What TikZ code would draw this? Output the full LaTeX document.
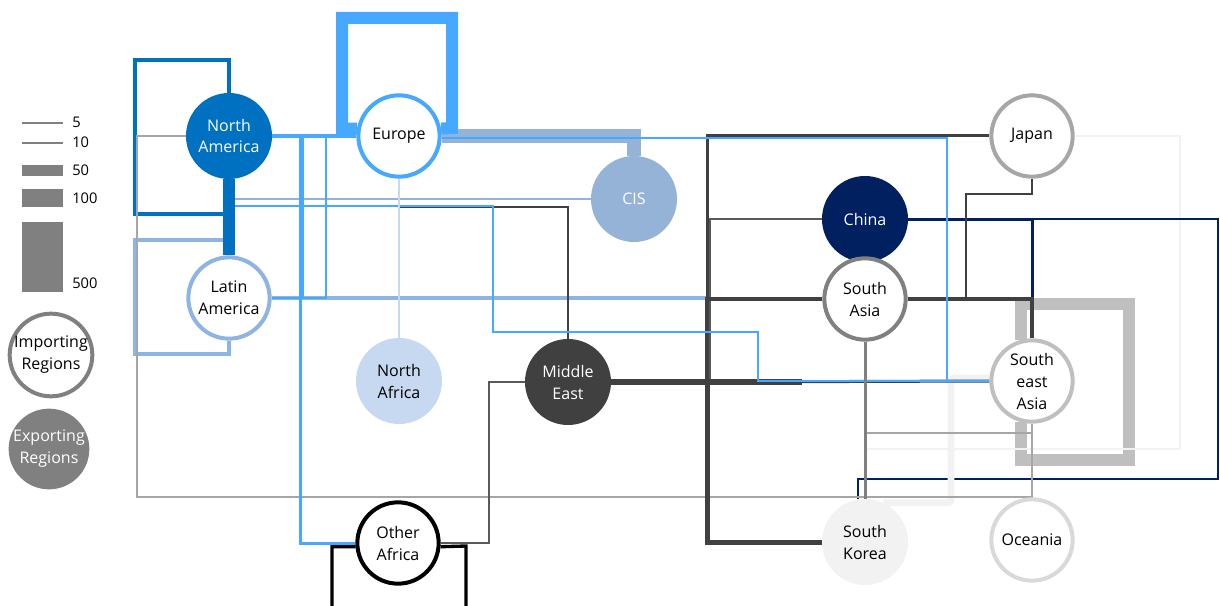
\documentclass[tikz,border=0pt]{standalone}
\usepackage{fontspec}
\setmainfont{Open Sans}
\usepackage{tikz}
\usetikzlibrary{positioning, calc}
\definecolor{na-blue}{RGB}{0,112,192}
\definecolor{eu-blue}{RGB}{70,168,255}
\definecolor{cis-blue}{RGB}{149,179,215}
\definecolor{la-blue}{RGB}{141,180,226}
\definecolor{naf-blue}{RGB}{198,217,241}
\definecolor{me-dark}{RGB}{64,64,64}
\definecolor{me-mid}{RGB}{89,89,89}
\definecolor{cn-navy}{RGB}{0,32,96}
\definecolor{sa-grey}{RGB}{128,128,128}
\definecolor{jp-grey}{RGB}{166,166,166}
\definecolor{sea-grey}{RGB}{191,191,191}
\definecolor{sk-light}{RGB}{242,242,242}
\definecolor{oc-grey}{RGB}{217,217,217}
\pgfdeclarelayer{background}
\pgfsetlayers{background,main}

\begin{document}
\begin{tikzpicture}[
    x=0.75pt, y=-0.75pt,
    region/.style={circle, inner sep=0pt, align=center, font=\fontsize{12}{16.5}\selectfont},
    importer/.style={region, draw=#1, line width=3pt, fill=white, minimum size=61pt, text=black},
    exporter/.style={region, fill=#1, minimum size=64.5pt, text=white},
    flow/.style={line width=#1},
    legbar/.style={rectangle, fill=sa-grey, minimum width=30.75pt, inner sep=0pt},
    legtxt/.style={font=\fontsize{11}{13}\selectfont, inner sep=0pt, anchor=west}
]
\useasboundingbox (0,0) rectangle (1220,606);

% Legend
\draw[sa-grey, line width=1.1pt] (22,123) -- (63,123);
\draw[sa-grey, line width=1.5pt] (22,143) -- (63,143);
\node[legbar, minimum height=8.25pt] (b50) at (42.5,170.5) {};
\node[legbar, minimum height=13.5pt] (b100) at (42.5,198) {};
\node[legbar, minimum height=52.5pt] (b500) at (42.5,257) {};
\node[legtxt] (t5) at (72,122) {5};
\node[legtxt] (t10) at (72,142) {10};
\node[legtxt] (t50) at (72,170) {50};
\node[legtxt] (t100) at (72,198) {100};
\node[legtxt] (t500) at (72,283) {500};
\node[importer=sa-grey] (imp) at (51,355) {Importing\\Regions};
\node[exporter=sa-grey, minimum size=60pt] (exp) at (49,449) {Exporting\\Regions};

% Regions
\node[exporter=na-blue] (na) at (229,136) {North\\America};
\node[importer=eu-blue] (eu) at (399,136) {Europe};
\node[exporter=cis-blue] (cis) at (634,199) {CIS};
\node[importer=la-blue] (la) at (229,298) {Latin\\America};
\node[exporter=naf-blue, text=black] (naf) at (399,381) {North\\Africa};
\node[exporter=me-dark] (me) at (568,382) {Middle\\East};
\node[importer=black] (oaf) at (398,543) {Other\\Africa};
\node[importer=jp-grey] (jp) at (1032,136) {Japan};
\node[exporter=cn-navy] (cn) at (865,219) {China};
\node[importer=sa-grey] (sa) at (865,299) {South\\Asia};
\node[importer=sea-grey] (sea) at (1032,381) {South\\east\\Asia};
\node[exporter=sk-light, text=black] (sk) at (865,542) {South\\Korea};
\node[importer=oc-grey] (oc) at (1032,540) {Oceania};

% Junctions
\coordinate (mehub) at (707,382);
\coordinate (mecut) at (802,382);
\coordinate (trunk1) at (235,199);
\coordinate (trunk2) at (235,206);
\coordinate (jpjoin) at (966,299);

\begin{pgfonlayer}{background}
\clip (0,0) rectangle (1220,606);
% Loops and light flows
\draw[flow=9.5pt, sea-grey] (sea.105) |- (1129,304) -- (1129,460) -| (sea.255);
\draw[flow=1.5pt, sk-light] (jp.east) -| (1180,449) -| (sk.north);
\draw[flow=1.5pt, cn-navy] (cn.east) -| (1218,479) -| (sk.100);
\draw[flow=2.25pt, cn-navy] (cn.east) -| (sea.north);
\draw[flow=5pt, sk-light, rounded corners=2pt] (sk.65) -| (951,378) -- (sea.176);
\draw[flow=2.5pt, na-blue] (na.north) |- (135,60) |- (229,214);
\draw[flow=3pt, la-blue] (la.south) |- (135,354) |- (229,240);
\draw[flow=1.5pt, jp-grey] (na.west) -| (137,497) -| (sea.south);
\draw[flow=1.5pt, jp-grey] (sea.south) |- (865,433) -- (sk.north);
\draw[flow=3pt, la-blue] (la.east) -| (mehub);

% CIS
\draw[flow=11pt, cis-blue] (eu.east) -| (cis.north);
\draw[flow=1.8pt, cis-blue] (cis.west) -- (trunk1);

% Europe loop
\draw[flow=9pt, eu-blue] (eu.170) -| (342,18) -| (452,128) -- (eu.10);

% Middle East
\draw[flow=1.5pt, me-mid] ([xshift=2.25pt]mehub) |- (cn.west);
\draw[flow=2.25pt, me-dark] (mehub) |- (jp.west);
\draw[flow=3pt, me-dark] (mehub) |- (sa.west);
\draw[flow=3.75pt, me-dark] (mehub) |- (sk.west);
\draw[flow=2.25pt, me-dark] (mehub) -- (sea.west);
\draw[flow=5pt, me-dark] (me.east) -- (mecut);
\draw[flow=2.5pt, me-dark] (sa.east) -| (sea.north);
\draw[flow=1.5pt, me-dark] (jp.south) |- (966,194) -- (jpjoin);
\draw[flow=1.5pt, me-dark] (me.north) |- (399,207) -- (eu.south);
\draw[flow=1.5pt, me-mid] (me.west) -| (489,543) -- (oaf.east);

% Europe
\draw[flow=1.5pt, eu-blue] (eu.-3) -| (947,381) -- (sea.west);
\draw[flow=1.5pt, eu-blue] (trunk2) -| (493,332) -| (758,381) -- (sea.west);
\draw[flow=3.5pt, eu-blue] (na.east) -- (eu.west);
\draw[flow=2pt, eu-blue] (la.east) -| (326,136) -- (eu.west);
\draw[flow=1.5pt, eu-blue] (la.east) -| (303,136) -- (eu.west);
\draw[flow=2.25pt, eu-blue] (eu.west) -| (300,543) -- (oaf.west);
\draw[flow=1.5pt, naf-blue] (eu.south) -- (naf.north);

% Trunks
\draw[flow=9pt, na-blue] (na.south) -- (la.north);
\draw[flow=2.25pt, sa-grey] (sa.south) -- (sk.north);
\draw[flow=2.5pt, black] (oaf.185) -| (332,640) -| (466,546) -- (oaf.-5);
\end{pgfonlayer}

\end{tikzpicture}
\end{document}
